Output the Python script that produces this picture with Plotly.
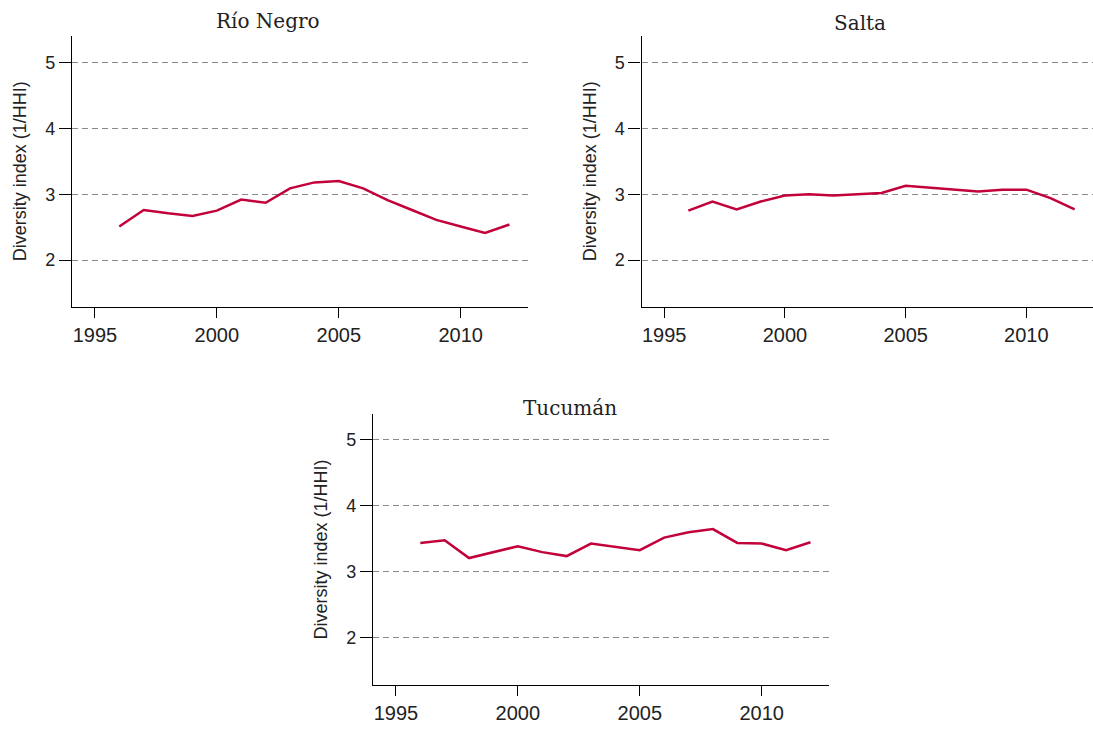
''' Diversity index by province '''
import plotly.graph_objects as go

# Data
years = list(range(1996, 2013))
rio_negro = [2.51, 2.76, 2.71, 2.67, 2.75, 2.92, 2.87, 3.09, 3.18, 3.20,
             3.09, 2.91, 2.76, 2.61, 2.51, 2.41, 2.54]
salta = [2.75, 2.89, 2.77, 2.89, 2.98, 3.00, 2.98, 3.00, 3.02, 3.13,
         3.10, 3.06, 3.04, 3.07, 3.07, 2.94, 2.77]
tucuman = [3.43, 3.47, 3.20, 3.29, 3.38, 3.29, 3.23, 3.42, 3.37, 3.32,
           3.51, 3.59, 3.64, 3.43, 3.42, 3.32, 3.44]
panels = ['Río Negro', 'Salta', 'Tucumán']
series = [rio_negro, salta, tucuman]
x_ticks = [1995, 2000, 2005, 2010]
y_ticks = [2, 3, 4, 5]
y_title = 'Diversity index (1/HHI)'

line_color = '#c2003a'
W, H = 1093, 730
tick_font = 'Liberation Sans Narrow, Arial Narrow, Liberation Sans, sans-serif'

# panel boxes in pixels: left, right, top, bottom
boxes = [(72, 528, 36, 306.5), (641.5, 1093, 36, 306.5), (373, 829, 414, 685)]
y_ranges = [[1.293, 5.406], [1.293, 5.406], [1.277, 5.383]]
x_range = [1994.06, 2012.76]
title_pos = [(268, 21), (860, 23), (570, 408)]
ytitle_x = [20, 590, 320]

fig = go.Figure()
layout = {}
annotations = []

for i, (name, vals) in enumerate(zip(panels, series)):
    n = '' if i == 0 else str(i + 1)
    left, right, top, bottom = boxes[i]
    fig.add_trace(go.Scatter(
        x=years, y=vals, mode='lines',
        line=dict(color=line_color, width=2.5),
        xaxis='x' + n, yaxis='y' + n, showlegend=False,
    ))
    layout['xaxis' + n] = dict(
        domain=[left / W, right / W], range=x_range, anchor='y' + n,
        tickvals=x_ticks, ticks='outside', ticklen=10, tickwidth=1.2,
        tickcolor='black', showline=True, linecolor='black', linewidth=1.3,
        showgrid=False, zeroline=False,
        tickfont=dict(family=tick_font, size=20, color='#222'),
    )
    layout['yaxis' + n] = dict(
        domain=[(H - bottom) / H, (H - top) / H], range=y_ranges[i],
        anchor='x' + n, tickvals=y_ticks, ticks='outside', ticklen=12,
        tickwidth=1.2, tickcolor='black', showline=True, linecolor='black',
        linewidth=1.3, showgrid=True, gridcolor='#8a8a8a', gridwidth=1,
        griddash='6px,4px', zeroline=False,
        tickfont=dict(family=tick_font, size=18, color='#222'),
    )
    tx, ty = title_pos[i]
    annotations.append(dict(
        text=name, x=tx / W, y=(H - ty) / H, xref='paper', yref='paper',
        showarrow=False, xanchor='center', yanchor='middle',
        font=dict(family='DejaVu Serif, serif', size=20, color='#222'),
    ))
    annotations.append(dict(
        text=y_title, x=ytitle_x[i] / W, y=(H - (top + bottom) / 2) / H,
        xref='paper', yref='paper', showarrow=False, textangle=-90,
        xanchor='center', yanchor='middle',
        font=dict(family=tick_font, size=18, color='#222'),
    ))

fig.update_layout(
    width=W, height=H, autosize=False,
    margin=dict(l=0, r=0, t=0, b=0),
    paper_bgcolor='white', plot_bgcolor='white',
    annotations=annotations,
    **layout
)

# drop the browser's default page margin so the figure sits at the corner
fig.write_html('out.html', config={'displayModeBar': False},
               post_script="document.body.style.margin='0';")
